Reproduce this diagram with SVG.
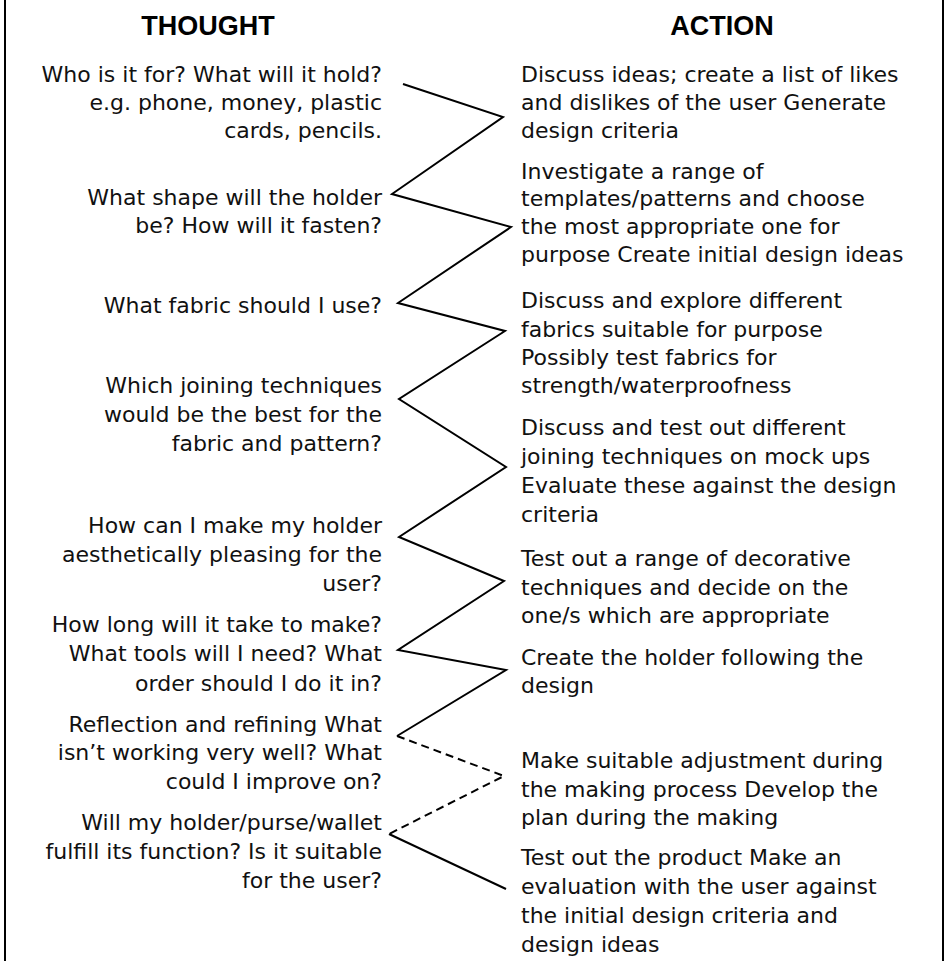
<svg xmlns="http://www.w3.org/2000/svg" width="947" height="961" viewBox="0 0 947 961">
<style>
.t{font-family:"DejaVu Sans","Liberation Sans",sans-serif;font-size:22px;fill:#111}
.l{text-anchor:end}
.h{font-family:"Liberation Sans",Arial,sans-serif;font-size:27px;font-weight:bold;fill:#000;text-anchor:middle}
.ln{fill:none;stroke:#000;stroke-width:2;stroke-linejoin:miter}
.d{stroke-dasharray:8 5}
</style>
<rect width="947" height="961" fill="#fff"/>
<g id="frame">
<line x1="5" y1="0" x2="5" y2="961" stroke="#000" stroke-width="2"/>
<line x1="943" y1="0" x2="943" y2="961" stroke="#000" stroke-width="2"/>
</g>
<g id="headings">
<text class="h" x="208" y="35">THOUGHT</text>
<text class="h" x="722" y="35">ACTION</text>
</g>
<g id="connectors">
<polyline class="ln" points="403,84 503,117 392,194 511,227 398,303 505,331 399,399 506,467 399,537 504,581 398,650 506,670 397,736"/>
<polyline class="ln d" points="397,736 504,776 389,834"/>
<polyline class="ln" points="389,834 506,889"/>
</g>
<g id="thought1"><text class="t l"><tspan x="382" y="82">Who is it for? What will it hold?</tspan><tspan x="382" y="110">e.g. phone, money, plastic</tspan><tspan x="382" y="138">cards, pencils.</tspan></text></g>
<g id="thought2"><text class="t l"><tspan x="382" y="205">What shape will the holder</tspan><tspan x="382" y="233">be? How will it fasten?</tspan></text></g>
<g id="thought3"><text class="t l"><tspan x="382" y="313">What fabric should I use?</tspan></text></g>
<g id="thought4"><text class="t l"><tspan x="382" y="393">Which joining techniques</tspan><tspan x="382" y="422">would be the best for the</tspan><tspan x="382" y="451">fabric and pattern?</tspan></text></g>
<g id="thought5"><text class="t l"><tspan x="382" y="533">How can I make my holder</tspan><tspan x="382" y="562">aesthetically pleasing for the</tspan><tspan x="382" y="591">user?</tspan></text></g>
<g id="thought6"><text class="t l"><tspan x="382" y="632">How long will it take to make?</tspan><tspan x="382" y="661">What tools will I need? What</tspan><tspan x="382" y="691">order should I do it in?</tspan></text></g>
<g id="thought7"><text class="t l"><tspan x="382" y="732">Reflection and refining What</tspan><tspan x="382" y="760">isn’t working very well? What</tspan><tspan x="382" y="789">could I improve on?</tspan></text></g>
<g id="thought8"><text class="t l"><tspan x="382" y="830">Will my holder/purse/wallet</tspan><tspan x="382" y="859">fulfill its function? Is it suitable</tspan><tspan x="382" y="888">for the user?</tspan></text></g>
<g id="action1"><text class="t"><tspan x="521" y="82">Discuss ideas; create a list of likes</tspan><tspan x="521" y="110">and dislikes of the user Generate</tspan><tspan x="521" y="138">design criteria</tspan></text></g>
<g id="action2"><text class="t"><tspan x="521" y="179">Investigate a range of</tspan><tspan x="521" y="206">templates/patterns and choose</tspan><tspan x="521" y="234">the most appropriate one for</tspan><tspan x="521" y="262">purpose Create initial design ideas</tspan></text></g>
<g id="action3"><text class="t"><tspan x="521" y="308">Discuss and explore different</tspan><tspan x="521" y="337">fabrics suitable for purpose</tspan><tspan x="521" y="365">Possibly test fabrics for</tspan><tspan x="521" y="393">strength/waterproofness</tspan></text></g>
<g id="action4"><text class="t"><tspan x="521" y="435">Discuss and test out different</tspan><tspan x="521" y="464">joining techniques on mock ups</tspan><tspan x="521" y="493">Evaluate these against the design</tspan><tspan x="521" y="522">criteria</tspan></text></g>
<g id="action5"><text class="t"><tspan x="521" y="566">Test out a range of decorative</tspan><tspan x="521" y="595">techniques and decide on the</tspan><tspan x="521" y="623">one/s which are appropriate</tspan></text></g>
<g id="action6"><text class="t"><tspan x="521" y="665">Create the holder following the</tspan><tspan x="521" y="693">design</tspan></text></g>
<g id="action7"><text class="t"><tspan x="521" y="768">Make suitable adjustment during</tspan><tspan x="521" y="797">the making process Develop the</tspan><tspan x="521" y="825">plan during the making</tspan></text></g>
<g id="action8"><text class="t"><tspan x="521" y="865">Test out the product Make an</tspan><tspan x="521" y="894">evaluation with the user against</tspan><tspan x="521" y="923">the initial design criteria and</tspan><tspan x="521" y="952">design ideas</tspan></text></g>
</svg>
